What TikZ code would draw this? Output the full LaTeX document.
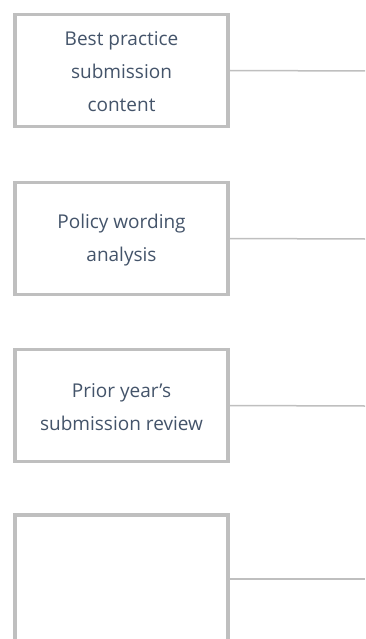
\documentclass[tikz,border=0pt]{standalone}
\usepackage{fontspec}
\setmainfont{Open Sans}
\definecolor{boxgray}{HTML}{BFBFBF}
\definecolor{txt}{HTML}{44546A}
\begin{document}
\begin{tikzpicture}[x=1pt,y=-1pt,
  stepbox/.style={draw=boxgray,line width=3.5pt,fill=white,minimum width=213pt,minimum height=112pt,
    inner sep=0pt,align=center,text=txt,font=\fontsize{19}{33}\selectfont},
  link/.style={draw=boxgray,line width=1.5pt}]
\useasboundingbox (0,0) rectangle (365,639);
\clip (0,0) rectangle (365,639);
\node[stepbox] (b1) at (121.5,70.5) {\rule{0pt}{17pt}Best practice\\submission\\content};
\node[stepbox] (b2) at (121.5,238.5) {\rule{0pt}{17pt}Policy wording\\analysis};
\node[stepbox] (b3) at (121.5,405.5) {\rule{0pt}{17pt}Prior year’s\\submission review};
\node[stepbox,minimum height=128pt] (b4) at (121.5,579) {};
\coordinate (e1) at (365,71);
\coordinate (e2) at (365,239);
\coordinate (e3) at (365,406);
\coordinate (e4) at (365,579);
\draw[link] (b1.east) -- (e1);
\draw[link] (b2.east) -- (e2);
\draw[link] (b3.east) -- (e3);
\draw[link] (b4.east) -- (e4);
\end{tikzpicture}
\end{document}
